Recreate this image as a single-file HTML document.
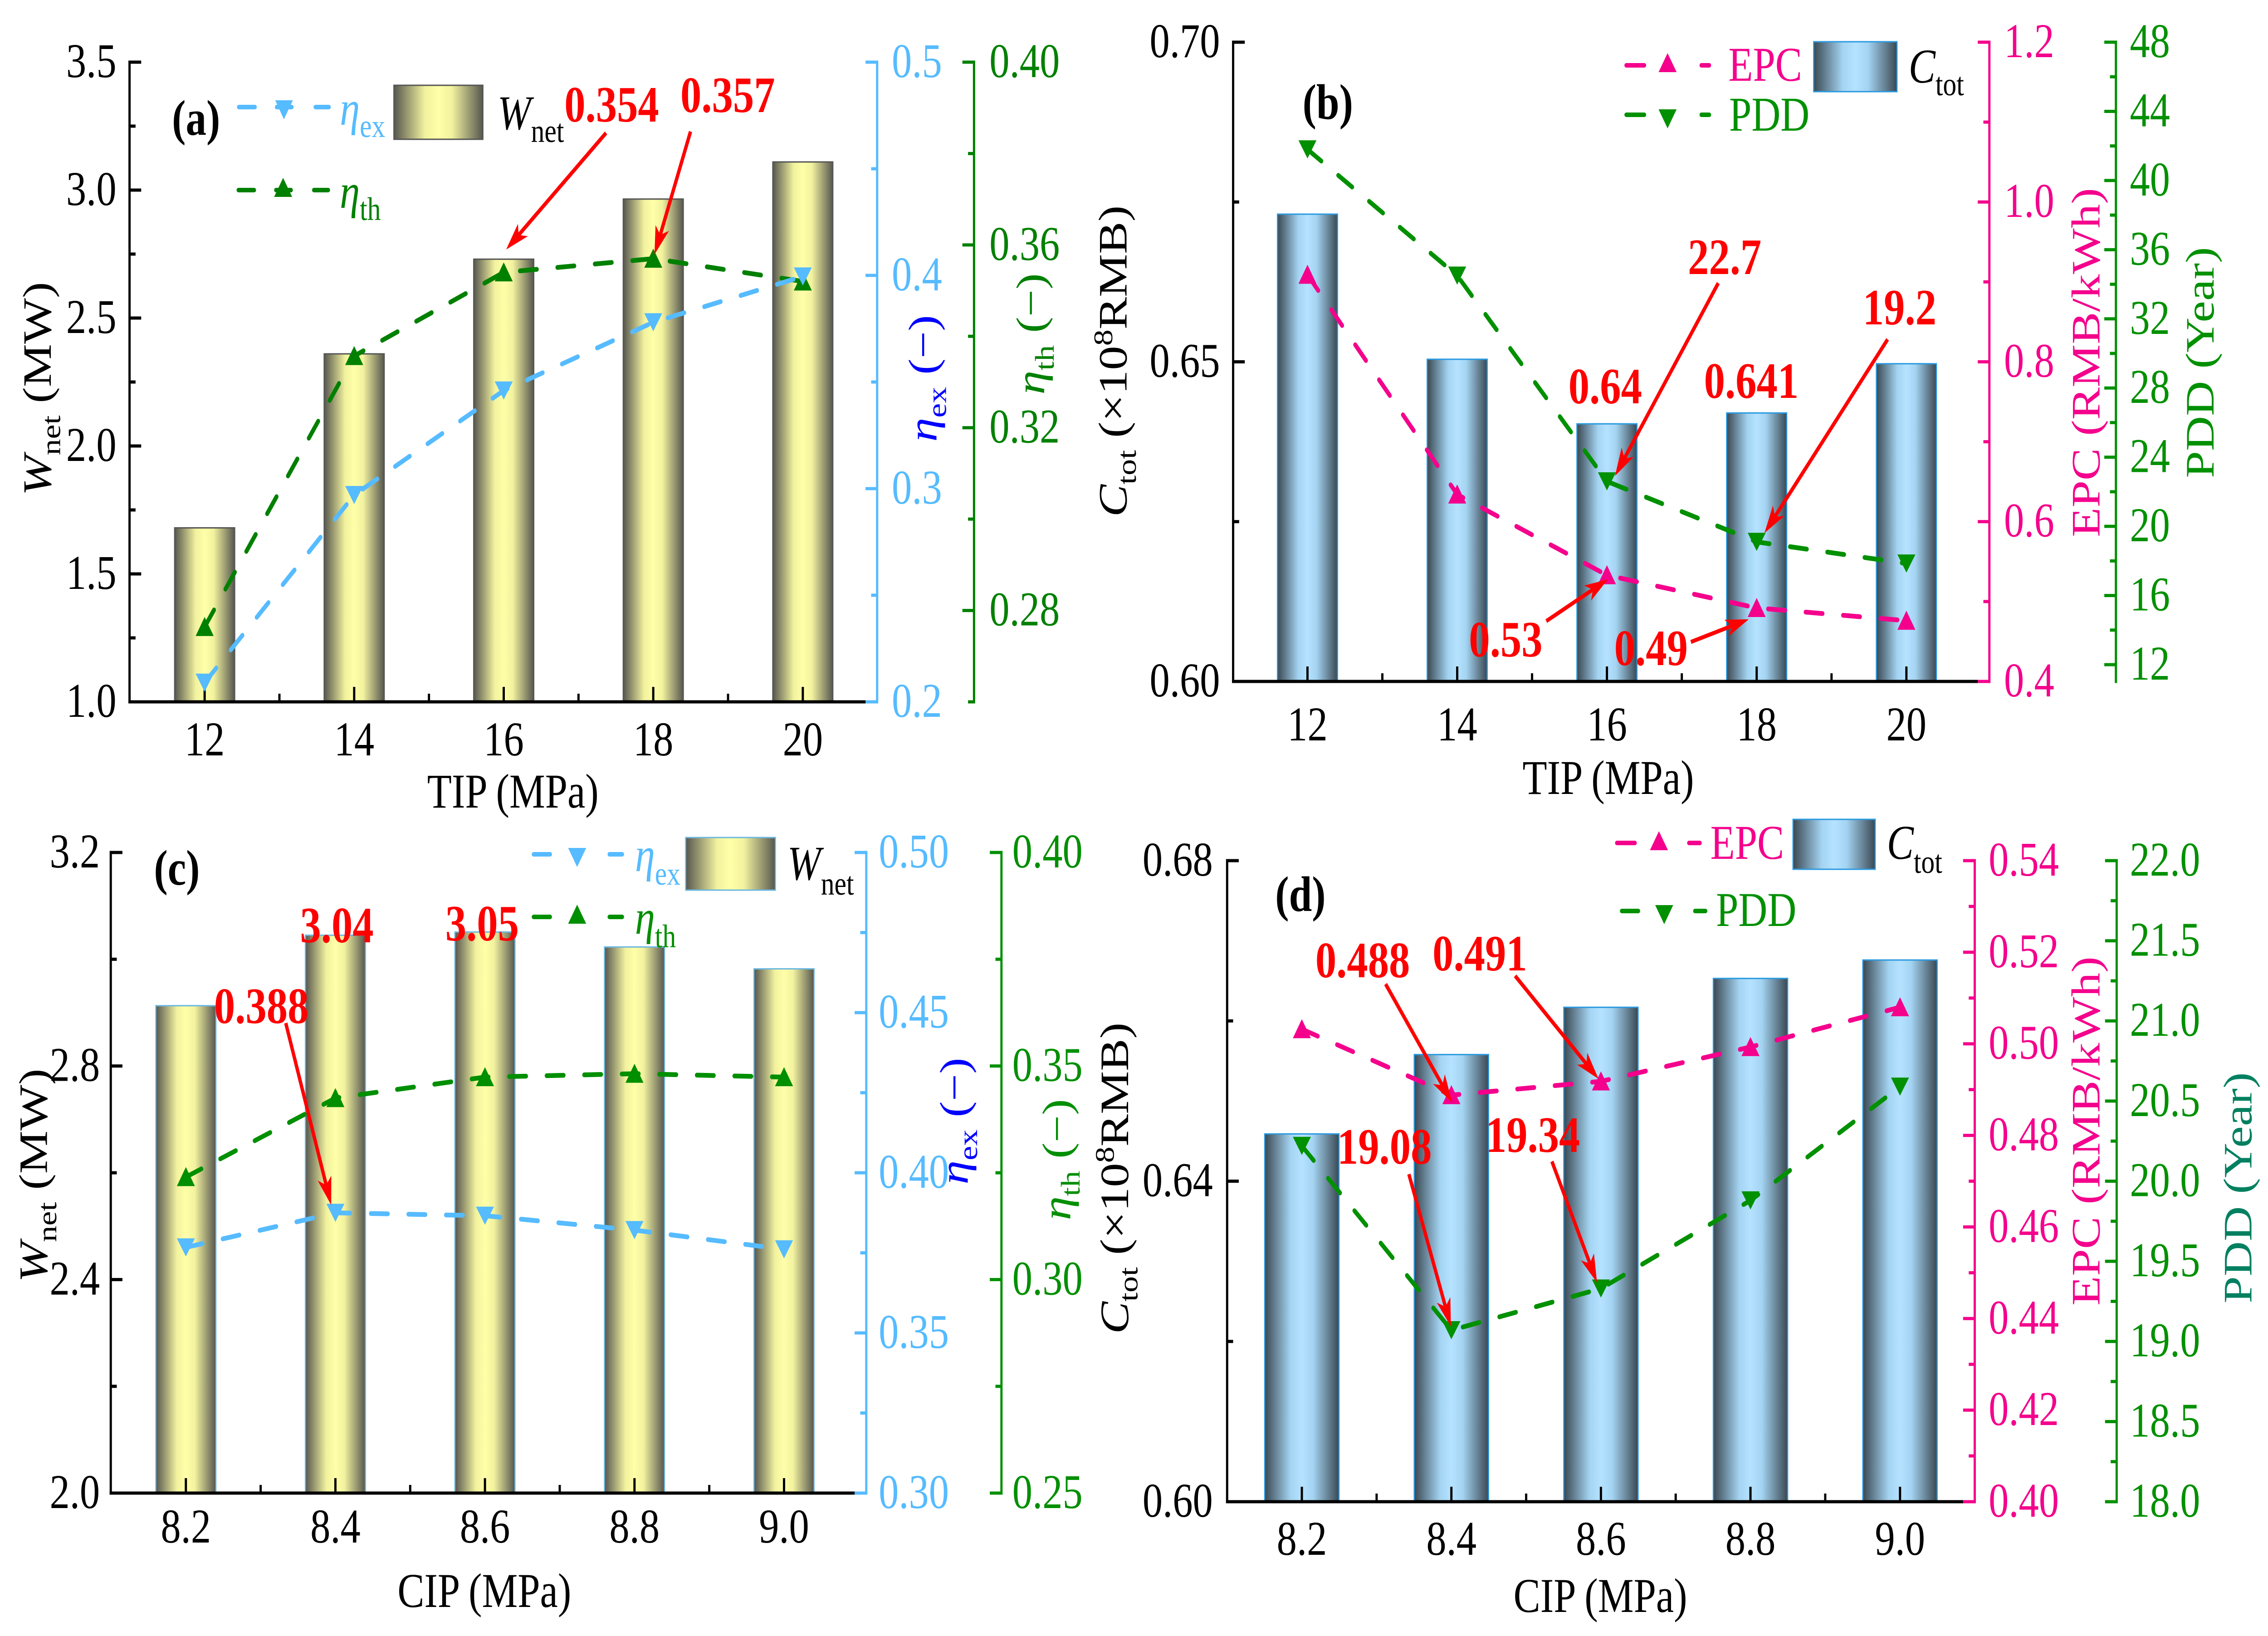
<!DOCTYPE html>
<html lang="en">
<head>
<meta charset="utf-8">
<title>Four-panel TIP and CIP performance charts</title>
<style>
html,body{margin:0;padding:0;background:#fff;}
svg{display:block;font-family:"Liberation Serif","Times New Roman",serif;}
@media (min-height:2500px){
  html,body{overflow:hidden;width:100vw;height:100vh;}
  svg{width:100vw;height:100vh;}
}
.i{font-style:italic;}
.anno{font-weight:700;font-size:112px;fill:#ff0000;}
.plabel{font-weight:700;font-size:110px;fill:#000;}
.title{font-size:107px;}
.leg{font-size:107px;}
</style>
</head>
<body>
<svg id="figure" xmlns="http://www.w3.org/2000/svg" width="6040" height="3606" viewBox="0 0 6040 3606" preserveAspectRatio="none">
<defs>
<linearGradient id="yellowBar" x1="0" y1="0" x2="1" y2="0">
<stop offset="0" stop-color="#56564f"/><stop offset="0.35" stop-color="#f2f29f"/><stop offset="0.5" stop-color="#ffffa8"/><stop offset="0.65" stop-color="#f2f29f"/><stop offset="1" stop-color="#56564f"/>
</linearGradient>
<linearGradient id="blueBar" x1="0" y1="0" x2="1" y2="0">
<stop offset="0" stop-color="#3a4852"/><stop offset="0.35" stop-color="#a4d4f2"/><stop offset="0.5" stop-color="#b5e2ff"/><stop offset="0.65" stop-color="#a4d4f2"/><stop offset="1" stop-color="#3a4852"/>
</linearGradient>
</defs>
<rect x="0" y="0" width="6040" height="3606" fill="#fff"/>
<g id="chart-a"></g>
<g id="chart-b"></g>
<g id="chart-c"></g>
<g id="chart-d"></g>

<!-- Panel a text -->
<g>
<text class="plabel" x="458" y="297">(a)</text>
<text class="title" x="1366" y="1780" text-anchor="middle">TIP (MPa)</text>
<text class="title" transform="translate(135,857) rotate(-90)" text-anchor="middle"><tspan class="i">W</tspan><tspan dy="25" font-size="72">net</tspan><tspan dy="-25"> (MW)</tspan></text>
<text class="title" fill="#0000ff" transform="translate(2494,834) rotate(-90)" text-anchor="middle"><tspan class="i">η</tspan><tspan dy="25" font-size="72">ex</tspan><tspan dy="-25"> (−)</tspan></text>
<text class="title" fill="#008000" transform="translate(2781,736) rotate(-90)" text-anchor="middle"><tspan class="i">η</tspan><tspan dy="25" font-size="72">th</tspan><tspan dy="-25"> (−)</tspan></text>
<g>
<line x1="636" y1="236" x2="679" y2="236" stroke="#56bbff" stroke-width="10" stroke-linecap="round"/>
<line x1="840" y1="236" x2="876" y2="236" stroke="#56bbff" stroke-width="10" stroke-linecap="round"/>
<line x1="737" y1="236" x2="777" y2="236" stroke="#56bbff" stroke-width="10" stroke-linecap="round"/>
<polygon points="733,221 780,221 756,263" fill="#56bbff"/>
<text class="leg" x="905" y="275" fill="#56bbff"><tspan class="i">η</tspan><tspan dy="27" font-size="72">ex</tspan></text>
<line x1="635" y1="419" x2="677" y2="419" stroke="#008000" stroke-width="10" stroke-linecap="round"/>
<line x1="836" y1="419" x2="874" y2="419" stroke="#008000" stroke-width="10" stroke-linecap="round"/>
<line x1="735" y1="419" x2="775" y2="419" stroke="#008000" stroke-width="10" stroke-linecap="round"/>
<polygon points="754,392 730,434 778,434" fill="#008000"/>
<text class="leg" x="905" y="458" fill="#008000"><tspan class="i">η</tspan><tspan dy="27" font-size="72">th</tspan></text>
<rect x="1049" y="188" width="237" height="119" fill="url(#yellowBar)" stroke="#555" stroke-width="3"/>
<text class="leg" x="1325" y="285"><tspan class="i">W</tspan><tspan dy="28" font-size="72">net</tspan></text>
</g>
</g>

<!-- Panel b text -->
<g>
<text class="plabel" x="3469" y="262">(b)</text>
<text class="title" x="4283" y="1750" text-anchor="middle">TIP (MPa)</text>
<text class="title" transform="translate(3000,796) rotate(-90)" text-anchor="middle"><tspan class="i">C</tspan><tspan dy="25" font-size="72">tot</tspan><tspan dy="-25"> (×10</tspan><tspan dy="-38" font-size="72">8</tspan><tspan dy="38">RMB)</tspan></text>
<text class="title" fill="#f4008c" transform="translate(5591,799) rotate(-90)" text-anchor="middle">EPC (RMB/kWh)</text>
<text class="title" fill="#009000" transform="translate(5895,799) rotate(-90)" text-anchor="middle">PDD (Year)</text>
<g>
<line x1="4331" y1="144" x2="4379" y2="144" stroke="#f4008c" stroke-width="10" stroke-linecap="round"/>
<line x1="4531" y1="144" x2="4552" y2="144" stroke="#f4008c" stroke-width="10" stroke-linecap="round"/>
<polygon points="4441,117 4417,159 4465,159" fill="#f4008c"/>
<text class="leg" x="4603" y="178" fill="#f4008c">EPC</text>
<line x1="4331" y1="253" x2="4379" y2="253" stroke="#009000" stroke-width="10" stroke-linecap="round"/>
<line x1="4531" y1="253" x2="4552" y2="253" stroke="#009000" stroke-width="10" stroke-linecap="round"/>
<polygon points="4417,241 4465,241 4441,283" fill="#009000"/>
<text class="leg" x="4605" y="288" fill="#009000">PDD</text>
<rect x="4830" y="92" width="222" height="110" fill="url(#blueBar)" stroke="#2a9ae0" stroke-width="3"/>
<text class="leg" x="5083" y="182"><tspan class="i">C</tspan><tspan dy="28" font-size="72">tot</tspan></text>
</g>
</g>

<!-- Panel c text -->
<g>
<text class="plabel" x="410" y="1950">(c)</text>
<text class="title" x="1290" y="3542" text-anchor="middle">CIP (MPa)</text>
<text class="title" transform="translate(125,2591) rotate(-90)" text-anchor="middle"><tspan class="i">W</tspan><tspan dy="25" font-size="72">net</tspan><tspan dy="-25"> (MW)</tspan></text>
<text class="title" fill="#0000ff" transform="translate(2577,2471) rotate(-90)" text-anchor="middle"><tspan class="i">η</tspan><tspan dy="25" font-size="72">ex</tspan><tspan dy="-25"> (−)</tspan></text>
<text class="title" fill="#008f00" transform="translate(2850,2556) rotate(-90)" text-anchor="middle"><tspan class="i">η</tspan><tspan dy="25" font-size="72">th</tspan><tspan dy="-25"> (−)</tspan></text>
<g>
<line x1="1421" y1="1883" x2="1465" y2="1883" stroke="#56bbff" stroke-width="10" stroke-linecap="round"/>
<line x1="1623" y1="1883" x2="1657" y2="1883" stroke="#56bbff" stroke-width="10" stroke-linecap="round"/>
<polygon points="1513,1869 1561,1869 1537,1911" fill="#56bbff"/>
<text class="leg" x="1691" y="1920" fill="#56bbff"><tspan class="i">η</tspan><tspan dy="30" font-size="72">ex</tspan></text>
<line x1="1421" y1="2021" x2="1465" y2="2021" stroke="#008f00" stroke-width="10" stroke-linecap="round"/>
<line x1="1623" y1="2021" x2="1657" y2="2021" stroke="#008f00" stroke-width="10" stroke-linecap="round"/>
<polygon points="1537,1994 1513,2036 1561,2036" fill="#008f00"/>
<text class="leg" x="1691" y="2058" fill="#008f00"><tspan class="i">η</tspan><tspan dy="30" font-size="72">th</tspan></text>
<rect x="1826" y="1846" width="239" height="116" fill="url(#yellowBar)" stroke="#6cb8e0" stroke-width="3"/>
<text class="leg" x="2097" y="1939"><tspan class="i">W</tspan><tspan dy="33" font-size="72">net</tspan></text>
</g>
</g>

<!-- Panel d text -->
<g>
<text class="plabel" x="3396" y="2008">(d)</text>
<text class="title" x="4262" y="3553" text-anchor="middle">CIP (MPa)</text>
<text class="title" transform="translate(3004,2597) rotate(-90)" text-anchor="middle"><tspan class="i">C</tspan><tspan dy="25" font-size="72">tot</tspan><tspan dy="-25"> (×10</tspan><tspan dy="-38" font-size="72">8</tspan><tspan dy="38">RMB)</tspan></text>
<text class="title" fill="#f4008c" transform="translate(5591,2493) rotate(-90)" text-anchor="middle">EPC (RMB/kWh)</text>
<text class="title" fill="#008060" transform="translate(5996,2618) rotate(-90)" text-anchor="middle">PDD (Year)</text>
<g>
<line x1="4306" y1="1858" x2="4354" y2="1858" stroke="#f4008c" stroke-width="10" stroke-linecap="round"/>
<line x1="4498" y1="1858" x2="4527" y2="1858" stroke="#f4008c" stroke-width="10" stroke-linecap="round"/>
<polygon points="4418,1832 4394,1874 4442,1874" fill="#f4008c"/>
<text class="leg" x="4555" y="1893" fill="#f4008c">EPC</text>
<line x1="4319" y1="2008" x2="4363" y2="2008" stroke="#009000" stroke-width="10" stroke-linecap="round"/>
<line x1="4514" y1="2008" x2="4542" y2="2008" stroke="#009000" stroke-width="10" stroke-linecap="round"/>
<polygon points="4408,1995 4456,1995 4432,2037" fill="#009000"/>
<text class="leg" x="4570" y="2041" fill="#009000">PDD</text>
<rect x="4775" y="1806" width="219" height="110" fill="url(#blueBar)" stroke="#2a9ae0" stroke-width="3"/>
<text class="leg" x="5025" y="1893"><tspan class="i">C</tspan><tspan dy="31" font-size="72">tot</tspan></text>
</g>
</g>

<!-- Annotations -->
<g id="annotations">
<text class="anno" x="1503" y="268">0.354</text>
<text class="anno" x="1812" y="247">0.357</text>
<text class="anno" x="4495" y="604">22.7</text>
<text class="anno" x="4961" y="715">19.2</text>
<text class="anno" x="4177" y="889">0.64</text>
<text class="anno" x="4538" y="877">0.641</text>
<text class="anno" x="3912" y="1447">0.53</text>
<text class="anno" x="4299" y="1466">0.49</text>
<text class="anno" x="799" y="2077">3.04</text>
<text class="anno" x="1186" y="2073">3.05</text>
<text class="anno" x="570" y="2255">0.388</text>
<text class="anno" x="3503" y="2154">0.488</text>
<text class="anno" x="3815" y="2139">0.491</text>
<text class="anno" x="3561" y="2565">19.08</text>
<text class="anno" x="3956" y="2539">19.34</text>
</g>
</svg>
<script>
// Panel (a)
const aCategories = [12, 14, 16, 18, 20];
const aWnet = [1.68, 2.36, 2.73, 2.965, 3.11];
const aEtaEx = [0.209, 0.297, 0.346, 0.378, 0.3995];
const aEtaTh = [0.2764, 0.3357, 0.354, 0.357, 0.352];
const aLeftTicks = ['1.0', '1.5', '2.0', '2.5', '3.0', '3.5'];
const aBlueTicks = ['0.2', '0.3', '0.4', '0.5'];
const aGreenTicks = ['0.28', '0.32', '0.36', '0.40'];
// Panel (b)
const bCategories = [12, 14, 16, 18, 20];
const bCtot = [0.6731, 0.6504, 0.6403, 0.642, 0.6497];
const bEpc = [0.909, 0.634, 0.533, 0.492, 0.476];
const bPdd = [41.8, 34.5, 22.6, 19.1, 17.85];
const bLeftTicks = ['0.60', '0.65', '0.70'];
const bPinkTicks = ['0.4', '0.6', '0.8', '1.0', '1.2'];
const bGreenTicks = ['12', '16', '20', '24', '28', '32', '36', '40', '44', '48'];
// Panel (c)
const cCategories = ['8.2', '8.4', '8.6', '8.8', '9.0'];
const cWnet = [2.913, 3.045, 3.051, 3.023, 2.982];
const cEtaEx = [0.3767, 0.3875, 0.3866, 0.3821, 0.3761];
const cEtaTh = [0.324, 0.3425, 0.3474, 0.3482, 0.3474];
const cLeftTicks = ['2.0', '2.4', '2.8', '3.2'];
const cBlueTicks = ['0.30', '0.35', '0.40', '0.45', '0.50'];
const cGreenTicks = ['0.25', '0.30', '0.35', '0.40'];
// Panel (d)
const dCategories = ['8.2', '8.4', '8.6', '8.8', '9.0'];
const dCtot = [0.6459, 0.6558, 0.6617, 0.6653, 0.6676];
const dEpc = [0.5032, 0.4888, 0.4918, 0.4993, 0.508];
const dPdd = [20.22, 19.07, 19.33, 19.88, 20.59];
const dLeftTicks = ['0.60', '0.64', '0.68'];
const dPinkTicks = ['0.40', '0.42', '0.44', '0.46', '0.48', '0.50', '0.52', '0.54'];
const dGreenTicks = ['18.0', '18.5', '19.0', '19.5', '20.0', '20.5', '21.0', '21.5', '22.0'];

const SVGNS = 'http://www.w3.org/2000/svg';
function make(parent, tag, props, content) {
  const el = document.createElementNS(SVGNS, tag);
  for (const k in props) el.setAttribute(k, props[k]);
  if (content !== undefined) el.textContent = content;
  parent.appendChild(el);
  return el;
}
function scale(min, max, p0, p1) {
  return function (v) { return p0 + (Number(v) - min) / (max - min) * (p1 - p0); };
}
const TICK_FONT = 107;

function drawVerticalAxis(g, ax, yBottom, yTop, isLeft) {
  const y = scale(ax.min, ax.max, yBottom, yTop);
  const spine = make(g, 'line', {x1: ax.x, x2: ax.x, y1: yBottom + 3.5, y2: yTop - 3.5, stroke: ax.color, 'stroke-width': 6});
  
  
  const dir = isLeft ? 1 : -1;
  const majors = ax.labels.map(Number);
  for (let v = ax.first; v <= ax.max + 1e-6; v += ax.minorStep) {
    if (majors.some(function (m) { return Math.abs(m - v) < ax.minorStep / 10; })) continue;
    const minor = make(g, 'line', {x1: ax.x, x2: ax.x + dir * 16, y1: y(v), y2: y(v), stroke: ax.color, 'stroke-width': 7});
    
    
  }
  ax.labels.forEach(function (lab) {
    const tick = make(g, 'line', {x1: ax.x, x2: ax.x + dir * 31, y1: y(lab), y2: y(lab), stroke: ax.color, 'stroke-width': 7});
    
    
    const text = make(g, 'text', {x: ax.labelX, y: y(lab) + 33, fill: ax.color, 'font-size': TICK_FONT, 'text-anchor': isLeft ? 'end' : 'start'}, lab);
    
    
  });
  return y;
}

function drawSeries(g, values, xs, yFn, color, dirUp, seriesName) {
  const pts = values.map(function (v, i) { return [xs[i], yFn(v)]; });
  const path = make(g, 'polyline', {
    points: pts.map(function (p) { return p[0].toFixed(1) + ',' + p[1].toFixed(1); }).join(' '),
    fill: 'none', stroke: color, 'stroke-width': 10.5, 'stroke-linecap': 'round', 'stroke-linejoin': 'round', 'stroke-dasharray': '45 55'
  });
  
  
  pts.forEach(function (p) {
    const s = dirUp
      ? [[p[0], p[1] - 22], [p[0] - 24, p[1] + 20], [p[0] + 24, p[1] + 20]]
      : [[p[0] - 24, p[1] - 20], [p[0] + 24, p[1] - 20], [p[0], p[1] + 20]];
    const marker = make(g, 'polygon', {points: s.map(function (q) { return q.join(','); }).join(' '), fill: color});
    
    
  });
}

function drawPanel(id, cfg) {
  const g = document.getElementById(id);
  const x = scale(0, cfg.categories.length - 1, cfg.firstX, cfg.lastX);
  const xs = cfg.categories.map(function (c, i) { return x(i); });
  const yLeft = scale(cfg.left.min, cfg.left.max, cfg.yBottom, cfg.yTop);
  cfg.bars.forEach(function (v, i) {
    const bar = make(g, 'rect', {x: xs[i] - cfg.barWidth / 2, y: yLeft(v), width: cfg.barWidth, height: cfg.yBottom - yLeft(v), fill: cfg.barFill, stroke: cfg.barStroke, 'stroke-width': 3});
    
    
  });
  drawVerticalAxis(g, cfg.left, cfg.yBottom, cfg.yTop, true);
  const base = make(g, 'line', {x1: cfg.left.x - 3, x2: cfg.xEnd, y1: cfg.yBottom, y2: cfg.yBottom, stroke: '#000', 'stroke-width': 7});
  
  
  cfg.categories.forEach(function (c, i) {
    const tick = make(g, 'line', {x1: xs[i], x2: xs[i], y1: cfg.yBottom, y2: cfg.yBottom - 33, stroke: '#000', 'stroke-width': 6});
    
    
    const label = make(g, 'text', {x: xs[i], y: cfg.xLabelY, 'font-size': TICK_FONT, 'text-anchor': 'middle'}, String(c));
    
    
    if (i < cfg.categories.length - 1) {
      const minor = make(g, 'line', {x1: x(i + 0.5), x2: x(i + 0.5), y1: cfg.yBottom, y2: cfg.yBottom - 18, stroke: '#000', 'stroke-width': 6});
      
      
    }
  });
  const y1 = drawVerticalAxis(g, cfg.right1, cfg.yBottom, cfg.yTop, false);
  const y2 = drawVerticalAxis(g, cfg.right2, cfg.yBottom, cfg.yTop, false);
  drawSeries(g, cfg.series1.values, xs, cfg.series1.useSecond ? y2 : y1, cfg.series1.color, cfg.series1.up, cfg.series1.name);
  drawSeries(g, cfg.series2.values, xs, cfg.series2.useSecond ? y2 : y1, cfg.series2.color, cfg.series2.up, cfg.series2.name);
}

const BLUE = '#56bbff', DGREEN = '#008000', MGREEN = '#008f00', BGREEN = '#009000', PINK = '#f4008c';

drawPanel('chart-a', {
  categories: aCategories, firstX: 545, lastX: 2138, xEnd: 2308, yBottom: 1547, yTop: 137, xLabelY: 1665,
  bars: aWnet, barWidth: 160, barFill: 'url(#yellowBar)', barStroke: '#555', barName: 'wnet',
  left: {x: 345, labelX: 310, min: 1.0, max: 3.5, first: 1.0, minorStep: 0.25, labels: aLeftTicks, color: '#000'},
  right1: {x: 2336, labelX: 2375, min: 0.2, max: 0.5, first: 0.2, minorStep: 0.05, labels: aBlueTicks, color: BLUE},
  right2: {x: 2594, labelX: 2635, min: 0.26, max: 0.40, first: 0.26, minorStep: 0.02, labels: aGreenTicks, color: DGREEN},
  series1: {values: aEtaTh, color: DGREEN, up: true, useSecond: true, name: 'eta-th'},
  series2: {values: aEtaEx, color: BLUE, up: false, useSecond: false, name: 'eta-ex'}
});
drawPanel('chart-b', {
  categories: bCategories, firstX: 3482, lastX: 5077, xEnd: 5268, yBottom: 1502, yTop: 93, xLabelY: 1632,
  bars: bCtot, barWidth: 160, barFill: 'url(#blueBar)', barStroke: '#2a9ae0', barName: 'ctot',
  left: {x: 3284, labelX: 3249, min: 0.60, max: 0.70, first: 0.60, minorStep: 0.025, labels: bLeftTicks, color: '#000'},
  right1: {x: 5298, labelX: 5337, min: 0.4, max: 1.2, first: 0.4, minorStep: 0.1, labels: bPinkTicks, color: PINK},
  right2: {x: 5635, labelX: 5672, min: 11.03, max: 48, first: 12, minorStep: 2, labels: bGreenTicks, color: BGREEN},
  series1: {values: bEpc, color: PINK, up: true, useSecond: false, name: 'epc'},
  series2: {values: bPdd, color: BGREEN, up: false, useSecond: true, name: 'pdd'}
});
drawPanel('chart-c', {
  categories: cCategories, firstX: 495, lastX: 2088, xEnd: 2280, yBottom: 3291, yTop: 1879, xLabelY: 3400,
  bars: cWnet, barWidth: 160, barFill: 'url(#yellowBar)', barStroke: '#6cb8e0', barName: 'wnet',
  left: {x: 295, labelX: 266, min: 2.0, max: 3.2, first: 2.0, minorStep: 0.2, labels: cLeftTicks, color: '#000'},
  right1: {x: 2307, labelX: 2340, min: 0.30, max: 0.50, first: 0.30, minorStep: 0.025, labels: cBlueTicks, color: BLUE},
  right2: {x: 2667, labelX: 2696, min: 0.25, max: 0.40, first: 0.25, minorStep: 0.025, labels: cGreenTicks, color: MGREEN},
  series1: {values: cEtaTh, color: MGREEN, up: true, useSecond: true, name: 'eta-th'},
  series2: {values: cEtaEx, color: BLUE, up: false, useSecond: false, name: 'eta-ex'}
});
drawPanel('chart-d', {
  categories: dCategories, firstX: 3467, lastX: 5060, xEnd: 5228, yBottom: 3310, yTop: 1897, xLabelY: 3427,
  bars: dCtot, barWidth: 198, barFill: 'url(#blueBar)', barStroke: '#2a9ae0', barName: 'ctot',
  left: {x: 3268, labelX: 3230, min: 0.60, max: 0.68, first: 0.60, minorStep: 0.02, labels: dLeftTicks, color: '#000'},
  right1: {x: 5259, labelX: 5296, min: 0.40, max: 0.54, first: 0.40, minorStep: 0.01, labels: dPinkTicks, color: PINK},
  right2: {x: 5637, labelX: 5672, min: 18, max: 22, first: 18, minorStep: 0.25, labels: dGreenTicks, color: BGREEN},
  series1: {values: dEpc, color: PINK, up: true, useSecond: false, name: 'epc'},
  series2: {values: dPdd, color: BGREEN, up: false, useSecond: true, name: 'pdd'}
});

// Annotation arrows
const annotationLayer = document.getElementById('annotations');
function arrow(x1, y1, x2, y2) {
  const len = Math.hypot(x2 - x1, y2 - y1), ux = (x2 - x1) / len, uy = (y2 - y1) / len;
  const L = 62, W = 19, N = 46;
  const shaft = make(annotationLayer, 'line', {x1: x1, y1: y1, x2: x2 - ux * N, y2: y2 - uy * N, stroke: '#ff0000', 'stroke-width': 9});
  
  
  const bx = x2 - ux * L, by = y2 - uy * L;
  const head = make(annotationLayer, 'polygon', {
    points: [x2, y2, bx - uy * W, by + ux * W, x2 - ux * N, y2 - uy * N, bx + uy * W, by - ux * W].map(function (v) { return v.toFixed(1); }).join(' '),
    fill: '#ff0000'
  });
  
  
}
arrow(1614, 293, 1348, 550);
arrow(1839, 290, 1743, 561);
arrow(4576, 624, 4301, 1049);
arrow(5027, 748, 4699, 1175);
arrow(4118, 1369, 4282, 1277);
arrow(4503, 1415, 4657, 1365);
arrow(761, 2255, 882, 2656);
arrow(3690, 2169, 3867, 2430);
arrow(4035, 2151, 4257, 2378);
arrow(3752, 2588, 3864, 2924);
arrow(4133, 2560, 4253, 2827);
</script>
</body>
</html>
